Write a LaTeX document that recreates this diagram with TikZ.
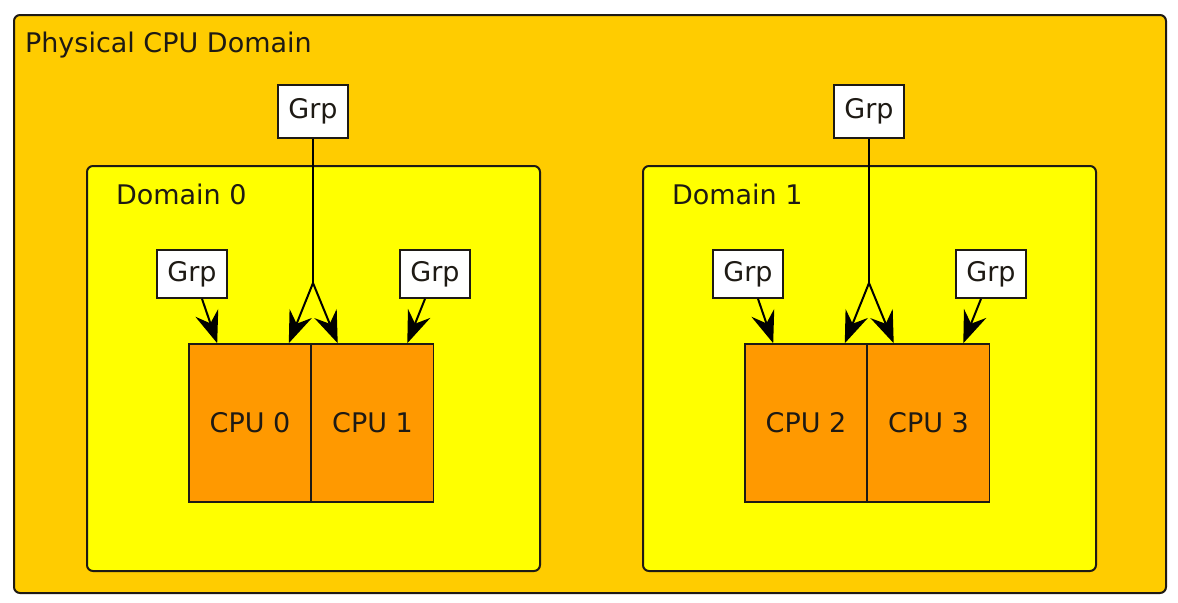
\documentclass[tikz,border=0pt]{standalone}
\usepackage{fontspec}
\setmainfont{DejaVu Sans}
\usetikzlibrary{arrows.meta,calc}

\definecolor{physfill}{HTML}{FFCC00}
\definecolor{domfill}{HTML}{FFFF00}
\definecolor{cpufill}{HTML}{FF9900}
\definecolor{edge}{HTML}{1E1A14}

\begin{document}
\begin{tikzpicture}[
        x=0.5pt, y=-0.5pt,
        font=\fontsize{13.5}{16}\selectfont,
        every node/.style={text=edge},
        physbox/.style={draw=edge, line width=1pt, fill=physfill, rounded corners=3pt,
                minimum width=576pt, minimum height=289pt},
        dombox/.style={draw=edge, line width=1pt, fill=domfill, rounded corners=3pt,
                minimum width=226.5pt, minimum height=202.5pt},
        cpubox/.style={draw=edge, line width=0.8pt, fill=cpufill,
                minimum width=61pt, minimum height=79pt},
        grpbox/.style={draw=edge, line width=0.8pt, fill=white,
                minimum width=35pt, minimum height=24pt, inner sep=0pt},
        link/.style={draw=black, line width=1pt, -{Stealth[length=16pt, width=12pt, inset=5.5pt]}}
    ]
    \useasboundingbox (0,0) rectangle (1178,602);
    \node[physbox] (phys) at (590,304) {};
    \node[anchor=west] (physlbl) at (18,45) {Physical CPU Domain};

    \foreach \d/\dx/\a/\b in {0/0/0/1, 1/556/2/3} {
        \node[dombox] (dom\d) at (313.5+\dx,368.5) {};
        \node[anchor=west] (domlbl\d) at (109+\dx,194) {Domain \d};
        \node[cpubox] (cpu\a) at (250+\dx,423) {CPU \a};
        \node[cpubox] (cpu\b) at (372.5+\dx,423) {CPU \b};
        % groups
        \node[grpbox, minimum height=26.5pt] (top\d) at (313+\dx,111.5) {Grp};
        \node[grpbox] (grp\a) at (192+\dx,274) {Grp};
        \node[grpbox] (grp\b) at (435+\dx,274) {Grp};
        \coordinate (split\d) at (313+\dx,283);
        % links
        \draw[line width=1pt] (top\d.south) -- (split\d);
        \draw[link] (split\d) -- ($(cpu\a.north east)+(-23,0)$);
        \draw[link] (split\d) -- ($(cpu\b.north west)+(27,0)$);
        \draw[link] ($(grp\a.south)+(10,0)$) -- ($(cpu\a.north west)+(29,0)$);
        \draw[link] ($(grp\b.south)+(-10,0)$) -- ($(cpu\b.north east)+(-27,0)$);
    }
\end{tikzpicture}
\end{document}
